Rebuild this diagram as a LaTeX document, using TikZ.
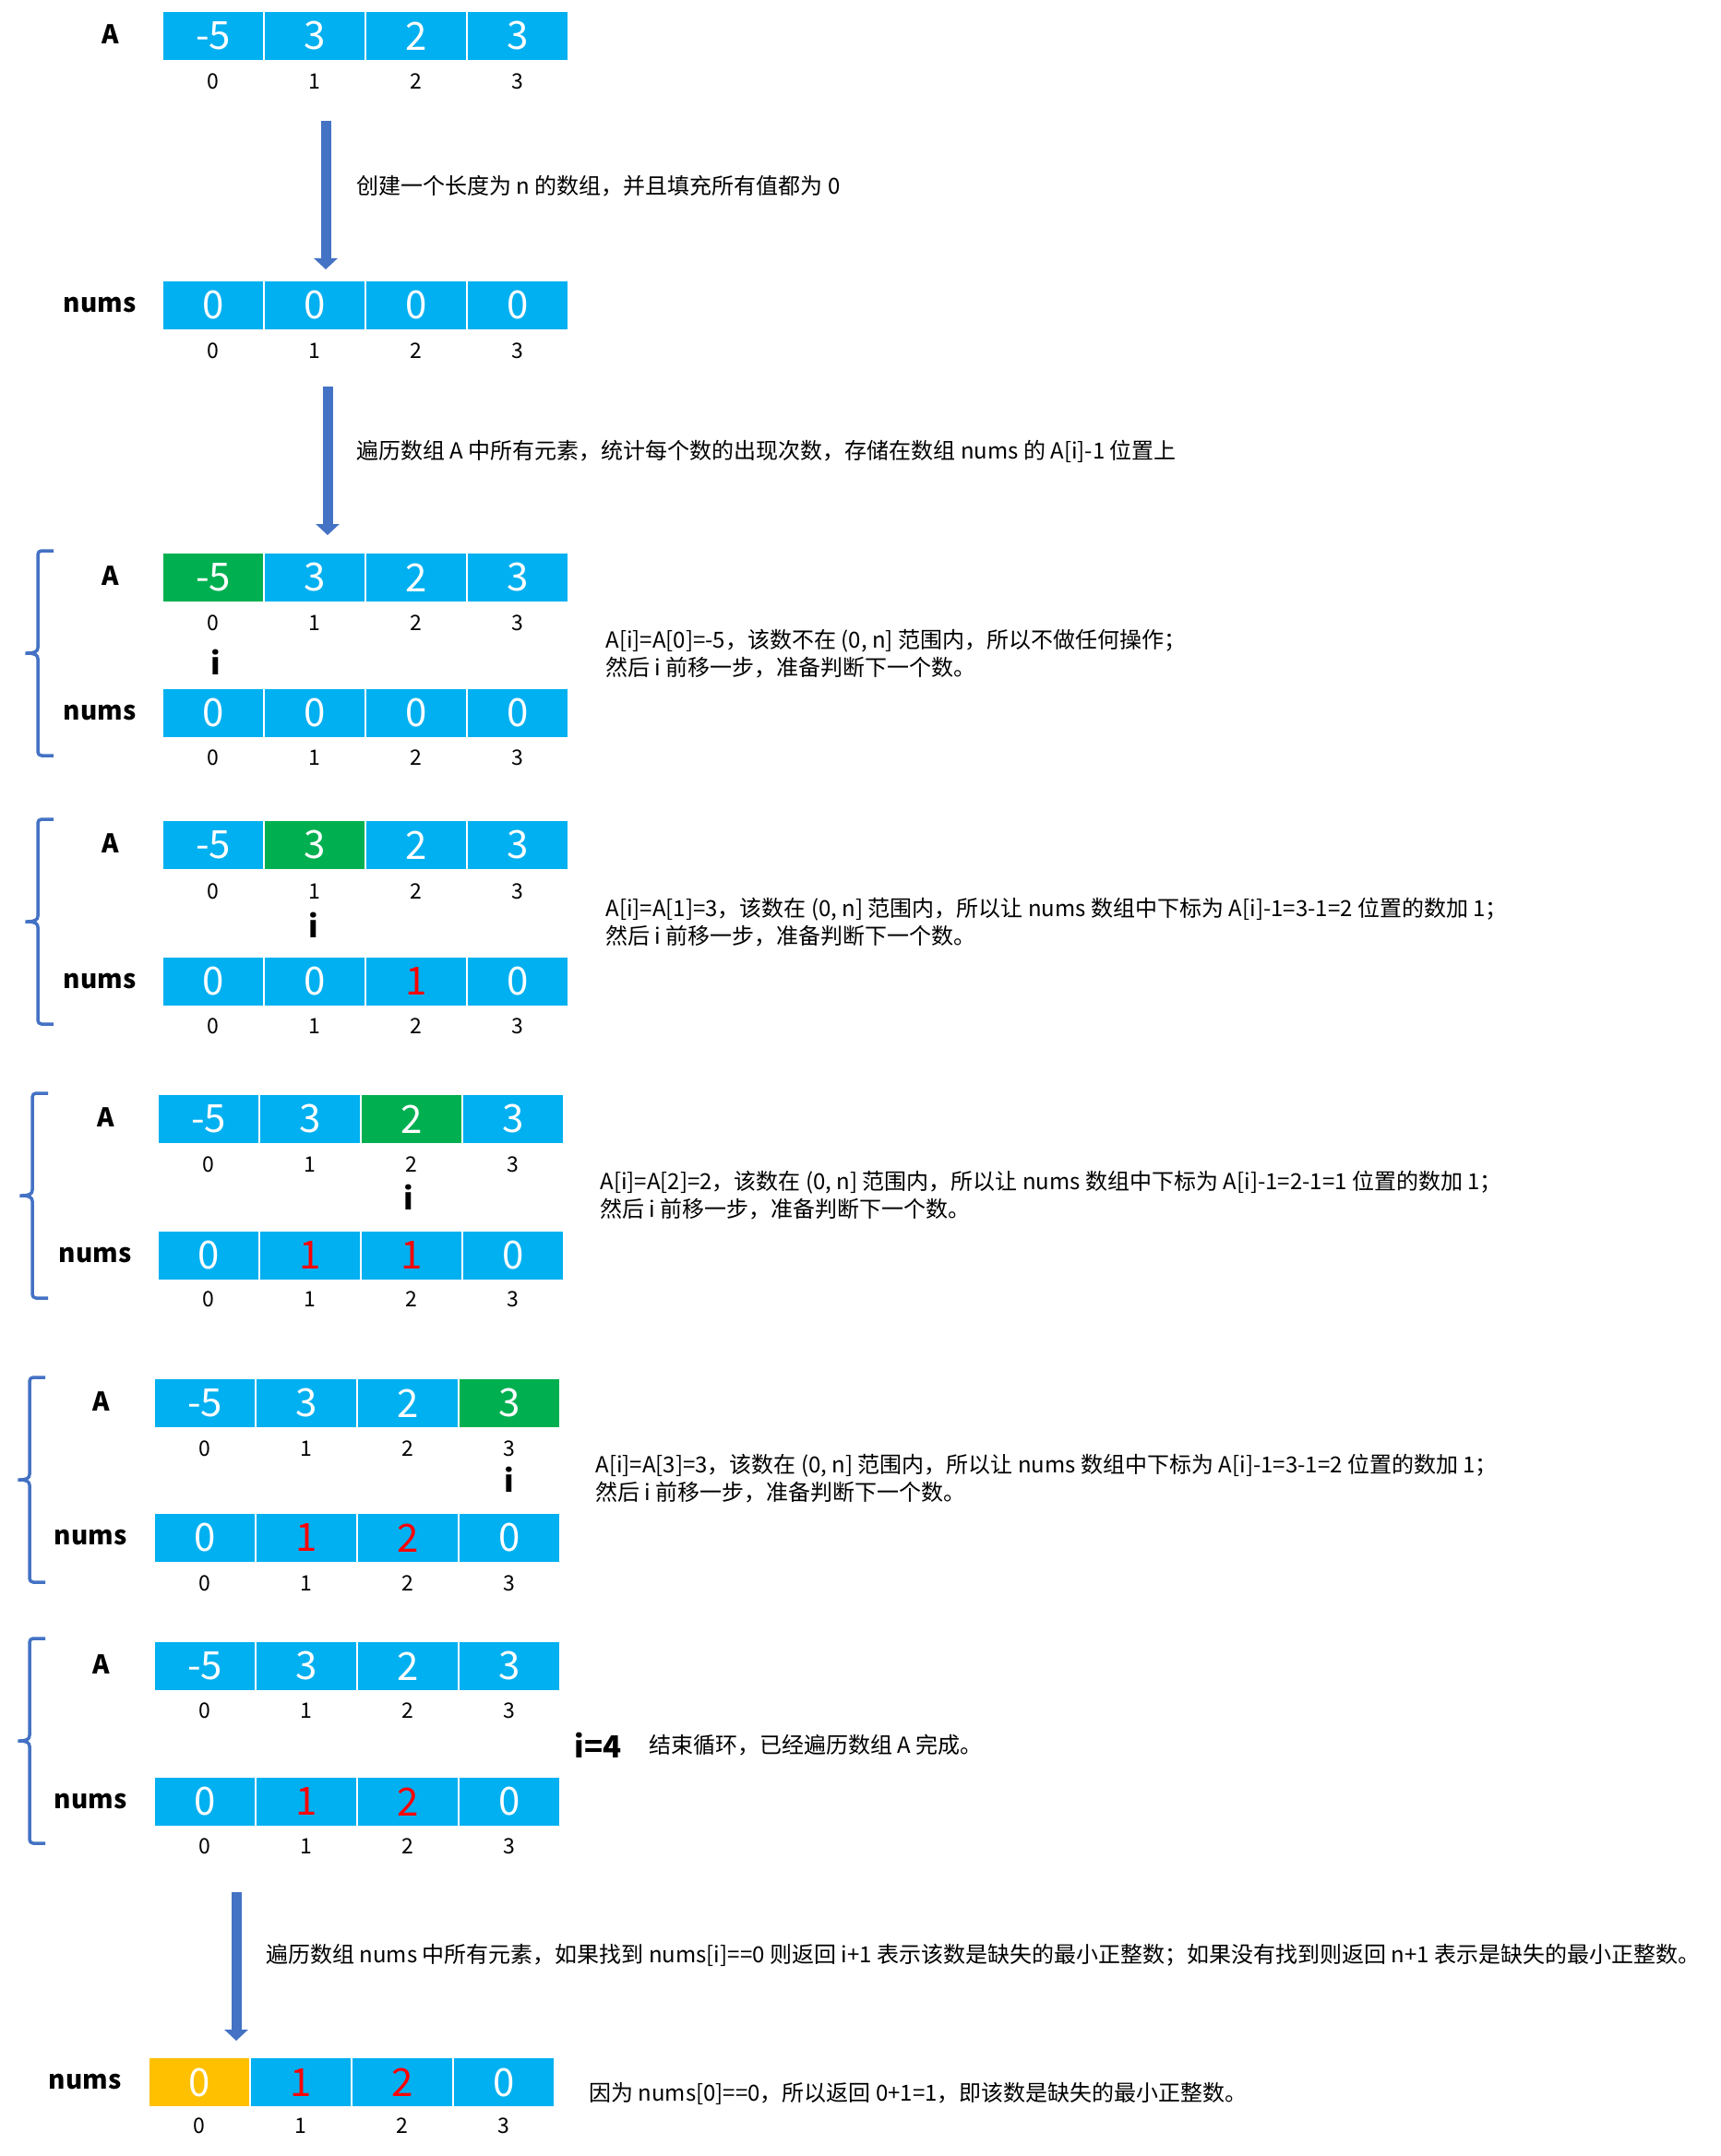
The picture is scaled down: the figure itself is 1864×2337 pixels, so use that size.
\documentclass[tikz,border=0pt]{standalone}
\usepackage{fontspec}
\setmainfont{Noto Sans CJK SC}
\usepackage{xcolor}
\usepackage{tikz}
\usetikzlibrary{arrows.meta, positioning}

\definecolor{cellblue}{HTML}{00B0F0}
\definecolor{curgreen}{HTML}{00B050}
\definecolor{ansorange}{HTML}{FFC000}
\definecolor{flowblue}{HTML}{4472C4}
\definecolor{cntred}{HTML}{FF0000}

\begin{document}
\begin{tikzpicture}[
x=0.5pt, y=-0.5pt,
cell/.style={draw=white, line width=0.75pt, fill=cellblue, text=white, minimum width=55pt, minimum height=27pt, inner sep=0pt, font=\fontsize{21}{21}\selectfont},
cur/.style={cell, fill=curgreen},
ans/.style={cell, fill=ansorange},
cnt/.style={cell, text=cntred},
idx/.style={inner sep=0pt, font=\fontsize{11.5}{11.5}\selectfont},
lab/.style={inner sep=0pt, font=\bfseries\fontsize{14}{14}\selectfont},
ptr/.style={inner sep=0pt, font=\bfseries\fontsize{16.5}{16.5}\selectfont},
note/.style={anchor=west, align=left, inner sep=0pt, font=\fontsize{12}{15}\selectfont},
flow/.style={draw=flowblue, line width=5.5pt, -{Triangle[width=12.5pt, length=6pt]}},
brace/.style={draw=flowblue, line width=1.75pt, rounded corners=2pt}
]

\fill[white] (0,0) rectangle (1864,2337);
\useasboundingbox (0,0) rectangle (1864,2337);

% start
\node[lab] (lA1) at (120,37) {A};
\foreach \v/\s [count=\k from 0] in {-5/cell,3/cell,2/cell,3/cell}{
  \node[\s] (a1-\k) at ({231+110*\k},39) {\v};
  \node[idx] (ia1-\k) at ({231+110*\k},88) {\k};
}

\coordinate (f1s) at (353,131);
\coordinate (f1e) at (353,292);
\draw[flow] (f1s) -- (f1e);
\node[note] (t1) at (386,202) {创建一个长度为 n 的数组，并且填充所有值都为 0};

\node[lab] (lN1) at (108,331) {nums};
\foreach \v/\s [count=\k from 0] in {0/cell,0/cell,0/cell,0/cell}{
  \node[\s] (n1-\k) at ({231+110*\k},331) {\v};
  \node[idx] (in1-\k) at ({231+110*\k},380) {\k};
}

\coordinate (f2s) at (355,419);
\coordinate (f2e) at (355,580);
\draw[flow] (f2s) -- (f2e);
\node[note] (t2) at (386,489) {遍历数组 A 中所有元素，统计每个数的出现次数，存储在数组 nums 的 A[i]-1 位置上};

% i = 0
\draw[brace] (58,597) -- (41,597) -- (41,698) .. controls (41,706) and (38,708) .. (25,708) .. controls (38,708) and (41,710) .. (41,718) -- (41,819) -- (58,819);
\node[lab] (lA2) at (120,624) {A};
\foreach \v/\s [count=\k from 0] in {-5/cur,3/cell,2/cell,3/cell}{
  \node[\s] (a2-\k) at ({231+110*\k},626) {\v};
  \node[idx] (ia2-\k) at ({231+110*\k},675) {\k};
}
\node[ptr] (i2) at (234,718) {i};
\node[lab] (lN2) at (108,773) {nums};
\foreach \v/\s [count=\k from 0] in {0/cell,0/cell,0/cell,0/cell}{
  \node[\s] (n2-\k) at ({231+110*\k},773) {\v};
  \node[idx] (in2-\k) at ({231+110*\k},821) {\k};
}
\node[note] (t3) at (656,709) {A[i]=A[0]=-5，该数不在 (0, n] 范围内，所以不做任何操作；\\然后 i 前移一步，准备判断下一个数。};

% i = 1
\draw[brace] (58,888) -- (41,888) -- (41,989) .. controls (41,997) and (38,999) .. (25,999) .. controls (38,999) and (41,1001) .. (41,1009) -- (41,1110) -- (58,1110);
\node[lab] (lA3) at (120,914) {A};
\foreach \v/\s [count=\k from 0] in {-5/cell,3/cur,2/cell,3/cell}{
  \node[\s] (a3-\k) at ({231+110*\k},916) {\v};
  \node[idx] (ia3-\k) at ({231+110*\k},966) {\k};
}
\node[ptr] (i3) at (340,1003) {i};
\node[lab] (lN3) at (108,1064) {nums};
\foreach \v/\s [count=\k from 0] in {0/cell,0/cell,1/cnt,0/cell}{
  \node[\s] (n3-\k) at ({231+110*\k},1064) {\v};
  \node[idx] (in3-\k) at ({231+110*\k},1112) {\k};
}
\node[note] (t4) at (656,1000) {A[i]=A[1]=3，该数在 (0, n] 范围内，所以让 nums 数组中下标为 A[i]-1=3-1=2 位置的数加 1；\\然后 i 前移一步，准备判断下一个数。};

% i = 2
\draw[brace] (52,1185) -- (35,1185) -- (35,1286) .. controls (35,1294) and (32,1296) .. (19,1296) .. controls (32,1296) and (35,1298) .. (35,1306) -- (35,1407) -- (52,1407);
\node[lab] (lA4) at (115,1211) {A};
\foreach \v/\s [count=\k from 0] in {-5/cell,3/cell,2/cur,3/cell}{
  \node[\s] (a4-\k) at ({226+110*\k},1213) {\v};
  \node[idx] (ia4-\k) at ({226+110*\k},1262) {\k};
}
\node[ptr] (i4) at (443,1298) {i};
\node[lab] (lN4) at (103,1361) {nums};
\foreach \v/\s [count=\k from 0] in {0/cell,1/cnt,1/cnt,0/cell}{
  \node[\s] (n4-\k) at ({226+110*\k},1361) {\v};
  \node[idx] (in4-\k) at ({226+110*\k},1408) {\k};
}
\node[note] (t5) at (650,1296) {A[i]=A[2]=2，该数在 (0, n] 范围内，所以让 nums 数组中下标为 A[i]-1=2-1=1 位置的数加 1；\\然后 i 前移一步，准备判断下一个数。};

% i = 3
\draw[brace] (49,1493) -- (32,1493) -- (32,1594) .. controls (32,1602) and (29,1604) .. (17,1604) .. controls (29,1604) and (32,1606) .. (32,1614) -- (32,1715) -- (49,1715);
\node[lab] (lA5) at (110,1519) {A};
\foreach \v/\s [count=\k from 0] in {-5/cell,3/cell,2/cell,3/cur}{
  \node[\s] (a5-\k) at ({222+110*\k},1521) {\v};
  \node[idx] (ia5-\k) at ({222+110*\k},1570) {\k};
}
\node[ptr] (i5) at (552,1604) {i};
\node[lab] (lN5) at (98,1667) {nums};
\foreach \v/\s [count=\k from 0] in {0/cell,1/cnt,2/cnt,0/cell}{
  \node[\s] (n5-\k) at ({222+110*\k},1667) {\v};
  \node[idx] (in5-\k) at ({222+110*\k},1716) {\k};
}
\node[note] (t6) at (645,1603) {A[i]=A[3]=3，该数在 (0, n] 范围内，所以让 nums 数组中下标为 A[i]-1=3-1=2 位置的数加 1；\\然后 i 前移一步，准备判断下一个数。};

% i = 4
\draw[brace] (49,1776) -- (32,1776) -- (32,1877) .. controls (32,1885) and (29,1887) .. (17,1887) .. controls (29,1887) and (32,1889) .. (32,1897) -- (32,1998) -- (49,1998);
\node[lab] (lA6) at (110,1804) {A};
\foreach \v/\s [count=\k from 0] in {-5/cell,3/cell,2/cell,3/cell}{
  \node[\s] (a6-\k) at ({222+110*\k},1806) {\v};
  \node[idx] (ia6-\k) at ({222+110*\k},1854) {\k};
}
\node[ptr] (i6) at (648,1892) {i=4};
\node[note] (t7) at (703,1892) {结束循环，已经遍历数组 A 完成。};
\node[lab] (lN6) at (98,1953) {nums};
\foreach \v/\s [count=\k from 0] in {0/cell,1/cnt,2/cnt,0/cell}{
  \node[\s] (n6-\k) at ({222+110*\k},1953) {\v};
  \node[idx] (in6-\k) at ({222+110*\k},2001) {\k};
}

\coordinate (f3s) at (256,2051);
\coordinate (f3e) at (256,2212);
\draw[flow] (f3s) -- (f3e);
\node[note] (t8) at (288,2119) {遍历数组 nums 中所有元素，如果找到 nums[i]==0 则返回 i+1 表示该数是缺失的最小正整数；如果没有找到则返回 n+1 表示是缺失的最小正整数。};

% result
\node[lab] (lN7) at (92,2257) {nums};
\foreach \v/\s [count=\k from 0] in {0/ans,1/cnt,2/cnt,0/cell}{
  \node[\s] (n7-\k) at ({216+110*\k},2257) {\v};
  \node[idx] (in7-\k) at ({216+110*\k},2304) {\k};
}
\node[note] (t9) at (638,2269) {因为 nums[0]==0，所以返回 0+1=1，即该数是缺失的最小正整数。};

\end{tikzpicture}
\end{document}
